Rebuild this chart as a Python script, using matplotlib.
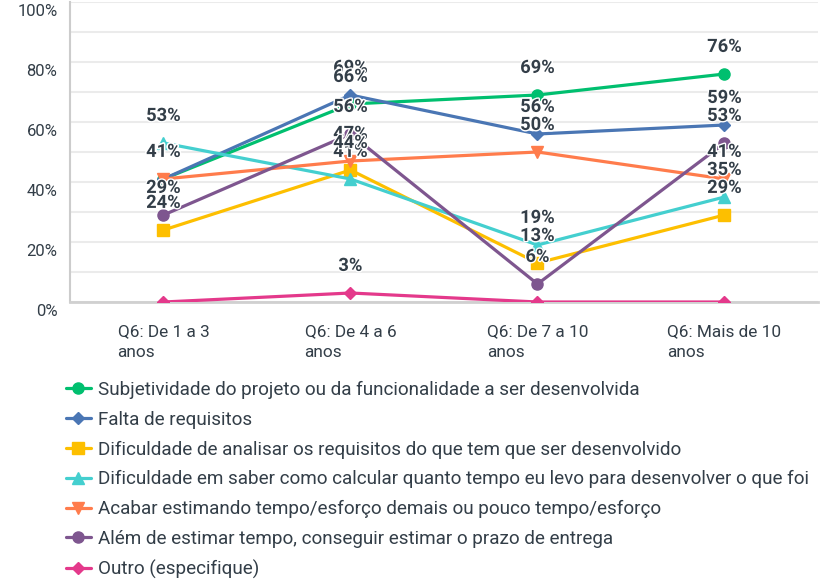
import matplotlib.pyplot as plt
import matplotlib.transforms as mtransforms
import matplotlib.patheffects as pe

plt.rcParams['font.family'] = ['Roboto', 'DejaVu Sans']

categories = ['Q6: De 1 a 3\nanos', 'Q6: De 4 a 6\nanos',
              'Q6: De 7 a 10\nanos', 'Q6: Mais de 10\nanos']

series_names = [
    'Subjetividade do projeto ou da funcionalidade a ser desenvolvida',
    'Falta de requisitos',
    'Dificuldade de analisar os requisitos do que tem que ser desenvolvido',
    'Dificuldade em saber como calcular quanto tempo eu levo para desenvolver o que foi',
    'Acabar estimando tempo/esforço demais ou pouco tempo/esforço',
    'Além de estimar tempo, conseguir estimar o prazo de entrega',
    'Outro (especifique)',
]

subjetividade = [41, 66, 69, 76]
falta_requisitos = [41, 69, 56, 59]
analisar_requisitos = [24, 44, 13, 29]
calcular_tempo = [53, 41, 19, 35]
estimando_demais = [41, 47, 50, 41]
prazo_entrega = [29, 56, 6, 53]
outro = [0, 3, 0, 0]

values = [subjetividade, falta_requisitos, analisar_requisitos, calcular_tempo,
          estimando_demais, prazo_entrega, outro]
colors = ['#00bf6f', '#4a76b4', '#fdbf00', '#44cfcf', '#ff7c4c', '#7e568f', '#e4398b']
markers = ['o', 'D', 's', '^', 'v', 'o', 'D']
msizes = [8, 6.5, 8, 8, 8, 8, 6.5]

text_color = '#333e48'

fig = plt.figure(figsize=(8.29, 5.86), dpi=100)
ax = fig.add_axes([70 / 829, 1 - 302 / 586, 748 / 829, 300 / 586])

x = list(range(len(categories)))
for name, vals, c, m, ms in zip(series_names, values, colors, markers, msizes):
    ax.plot(x, vals, color=c, lw=2.3, marker=m, markersize=ms, label=name,
            solid_capstyle='round', zorder=3)

# earlier series labels sit on top, as in the original
n = len(values)
for i, vals in enumerate(values):
    for xi, v in zip(x, vals):
        if v == 0:
            continue
        ax.annotate(f'{v}%', (xi, v), xytext=(0, 19.5), textcoords='offset points',
                    ha='center', va='center', fontsize=13.2, fontweight='bold',
                    color=text_color, zorder=5 + (n - i) * 0.1,
                    path_effects=[pe.withStroke(linewidth=2, foreground='white')])

ax.set_xlim(-0.5, 3.5)
ax.set_ylim(0, 100)
ax.set_yticks(range(0, 101, 10), minor=True)
ax.set_yticks(range(0, 101, 20))
ax.set_yticklabels([f'{t}%' for t in range(0, 101, 20)], fontsize=12, color=text_color)
ax.grid(axis='y', which='both', color='#ebebeb', lw=1.5, zorder=0)
ax.set_axisbelow(True)
ax.tick_params(axis='y', which='both', length=0, pad=9)
offset = mtransforms.ScaledTranslation(0, -8 / 100, fig.dpi_scale_trans)
for lbl in ax.get_yticklabels():
    lbl.set_transform(lbl.get_transform() + offset)

ax.set_xticks(x)
ax.set_xticklabels(categories, fontsize=12.4, color=text_color,
                   multialignment='left', linespacing=1.5)
ax.tick_params(axis='x', length=0, pad=16)

for side in ['top', 'right']:
    ax.spines[side].set_visible(False)
ax.spines['left'].set_color('#cccccc')
ax.spines['left'].set_linewidth(1.5)
ax.spines['bottom'].set_color('#d0d0d0')
ax.spines['bottom'].set_linewidth(2)

handles, labels = ax.get_legend_handles_labels()
fig.legend(handles, labels, loc='upper left', bbox_to_anchor=(66 / 829, 1 - 381 / 586),
           frameon=False, fontsize=13.6, labelcolor=text_color, handlelength=1.3,
           handletextpad=0.37, labelspacing=0.62, borderaxespad=0, borderpad=0)

fig.savefig('out.png', dpi=100)
